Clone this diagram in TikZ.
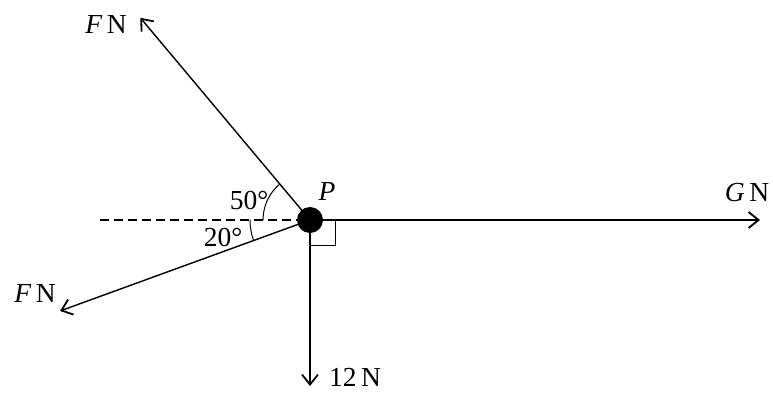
\documentclass[tikz,border=0pt]{standalone}
\usepackage{fontspec}
\setmainfont{Liberation Serif}
\usetikzlibrary{arrows.meta,calc}
\begin{document}
\begin{tikzpicture}[x=1pt,y=1pt,
  force/.style={line width=1.4pt,-{Straight Barb[length=10pt,width=16pt,line width=1.8pt]}},
  lbl/.style={inner sep=0pt,font=\fontsize{27.5}{32}\selectfont},
  thin line/.style={line width=1pt}]
\useasboundingbox (0,-394) rectangle (773,0);
\coordinate (P0) at (310,-220);
\coordinate (Fu) at ($(P0)+(130:264)$);
\coordinate (Fl) at ($(P0)+(200:266)$);
\coordinate (Gt) at (760,-220);
\coordinate (Dt) at (310,-386);
\coordinate (Ds) at (100,-220);
% dashed reference line
\draw[line width=1.2pt,dash pattern=on 9pt off 5pt] (Ds) -- (P0);
% angle arcs
\draw[thin line] ($(P0)+(130:47)$) arc[start angle=130,end angle=180,radius=47];
\draw[thin line] ($(P0)+(180:60)$) arc[start angle=180,end angle=200,radius=60];
% right angle mark
\draw[thin line] (335,-220) -- (335,-245) -- (310,-245);
% forces
\draw[force] (P0) -- (Fu);
\draw[force] (P0) -- (Fl);
\draw[force] (P0) -- (Gt);
\draw[force] (P0) -- (Dt);
\node[circle,fill=black,minimum size=26pt,inner sep=0pt] (P) at (P0) {};
% labels
\node[lbl] (lFu) at (106,-24) {\itshape F\,\upshape N};
\node[lbl] (lFl) at (35,-293) {\itshape F\,\upshape N};
\node[lbl] (lG) at (747,-193) {\itshape G\,\upshape N};
\node[lbl] (l12) at (355,-377) {12\,N};
\node[lbl] (lP) at (327,-191) {\itshape P};
\node[lbl] (l50) at (249,-200) {50°};
\node[lbl] (l20) at (223,-237) {20°};
\end{tikzpicture}
\end{document}
